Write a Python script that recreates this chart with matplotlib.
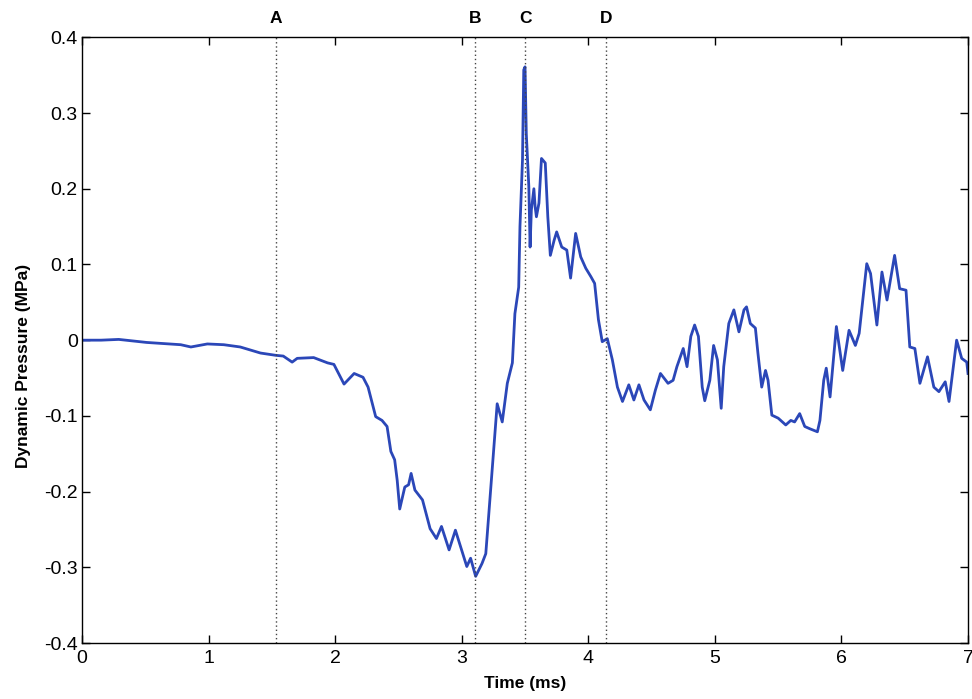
import matplotlib
matplotlib.use('Agg')
import matplotlib.pyplot as plt

# traced pressure signal (time in ms, pressure in MPa)
time_ms = [0.00, 0.15, 0.29, 0.51, 0.78, 0.86, 0.99, 1.12, 1.25, 1.35, 1.41, 1.53,
           1.59, 1.66, 1.70, 1.83, 1.94, 1.99, 2.07, 2.15, 2.22, 2.26, 2.32, 2.37,
           2.41, 2.44, 2.47, 2.49, 2.51, 2.55, 2.58, 2.60, 2.63, 2.69, 2.75, 2.80,
           2.84, 2.90, 2.95, 3.04, 3.07, 3.11, 3.16, 3.19, 3.23, 3.28, 3.32, 3.36,
           3.40, 3.42, 3.45, 3.46, 3.48, 3.49, 3.50, 3.51, 3.53, 3.54, 3.55, 3.57,
           3.58, 3.59, 3.61, 3.63, 3.66, 3.68, 3.70, 3.73, 3.75, 3.79, 3.83, 3.86,
           3.90, 3.94, 3.98, 4.02, 4.05, 4.08, 4.11, 4.15, 4.19, 4.23, 4.27, 4.32,
           4.36, 4.40, 4.44, 4.49, 4.53, 4.57, 4.63, 4.67, 4.70, 4.75, 4.78, 4.81,
           4.84, 4.87, 4.90, 4.92, 4.96, 4.99, 5.02, 5.05, 5.07, 5.11, 5.15, 5.19,
           5.23, 5.25, 5.28, 5.32, 5.34, 5.37, 5.40, 5.42, 5.45, 5.50, 5.56, 5.60,
           5.63, 5.67, 5.71, 5.75, 5.81, 5.83, 5.86, 5.88, 5.91, 5.96, 6.01, 6.06,
           6.11, 6.14, 6.20, 6.23, 6.28, 6.32, 6.36, 6.42, 6.46, 6.51, 6.54, 6.58,
           6.62, 6.68, 6.73, 6.77, 6.82, 6.85, 6.91, 6.95, 6.99, 7.00]
pressure = [0.000, 0.000, 0.001, -0.003, -0.006, -0.009, -0.005, -0.006, -0.009, -0.014, -0.017, -0.020,
            -0.021, -0.029, -0.024, -0.023, -0.030, -0.032, -0.058, -0.044, -0.049, -0.062, -0.101, -0.106,
            -0.114, -0.147, -0.158, -0.185, -0.223, -0.194, -0.191, -0.176, -0.198, -0.211, -0.249, -0.262,
            -0.246, -0.277, -0.251, -0.299, -0.288, -0.312, -0.295, -0.282, -0.194, -0.084, -0.108, -0.057,
            -0.030, 0.035, 0.070, 0.150, 0.238, 0.357, 0.361, 0.273, 0.203, 0.123, 0.172, 0.200,
            0.176, 0.163, 0.181, 0.240, 0.234, 0.163, 0.112, 0.132, 0.143, 0.123, 0.119, 0.082,
            0.141, 0.110, 0.095, 0.084, 0.075, 0.027, -0.002, 0.002, -0.026, -0.062, -0.081, -0.059,
            -0.079, -0.059, -0.079, -0.092, -0.066, -0.044, -0.057, -0.053, -0.035, -0.011, -0.035, 0.005,
            0.020, 0.005, -0.062, -0.080, -0.053, -0.007, -0.026, -0.090, -0.035, 0.022, 0.040, 0.011,
            0.040, 0.044, 0.022, 0.016, -0.017, -0.062, -0.040, -0.053, -0.099, -0.103, -0.112, -0.106,
            -0.108, -0.097, -0.114, -0.117, -0.121, -0.106, -0.053, -0.037, -0.075, 0.018, -0.040, 0.013,
            -0.007, 0.009, 0.101, 0.088, 0.020, 0.090, 0.053, 0.112, 0.068, 0.066, -0.009, -0.011,
            -0.057, -0.022, -0.062, -0.068, -0.055, -0.081, 0.000, -0.024, -0.029, -0.044]

# event markers
event_labels = ['A', 'B', 'C', 'D']
event_times = [1.53, 3.107, 3.50, 4.14]

x_ticks = [0, 1, 2, 3, 4, 5, 6, 7]
y_ticks = [-0.4, -0.3, -0.2, -0.1, 0, 0.1, 0.2, 0.3, 0.4]
y_tick_labels = ['-0.4', '-0.3', '-0.2', '-0.1', '0', '0.1', '0.2', '0.3', '0.4']

plt.rcParams['font.family'] = ['Liberation Sans', 'DejaVu Sans']

fig = plt.figure(figsize=(9.72, 6.99), dpi=100)
ax = fig.add_axes([0.0844, 0.0801, 0.9115, 0.8665])

ax.plot(time_ms, pressure, color='#2b47b8', linewidth=2.0)

# dotted event lines with their letters above the frame
for lab, t in zip(event_labels, event_times):
    ax.axvline(t, color='#444444', linestyle=(0, (1, 2)), linewidth=1.0)
    ax.text(t, 0.4 + 0.025, lab, ha='center', va='center',
            fontsize=12.5, fontweight='bold')

ax.set_xlim(0, 7)
ax.set_ylim(-0.4, 0.4)
ax.set_xticks(x_ticks)
ax.set_yticks(y_ticks)
ax.set_yticklabels(y_tick_labels)
ax.tick_params(direction='in', length=6, width=1, labelsize=14,
               top=True, right=True)
ax.tick_params(axis='x', pad=5)
ax.tick_params(axis='y', pad=3)

for s in ax.spines.values():
    s.set_linewidth(1.0)

ax.set_xlabel('Time (ms)', fontsize=12.5, fontweight='bold')
ax.set_ylabel('Dynamic Pressure (MPa)', fontsize=12.5, fontweight='bold')
ax.xaxis.set_label_coords(0.5, -0.055)
ax.yaxis.set_label_coords(-0.058, 0.457)

fig.savefig('out.png', dpi=100)
plt.close(fig)
